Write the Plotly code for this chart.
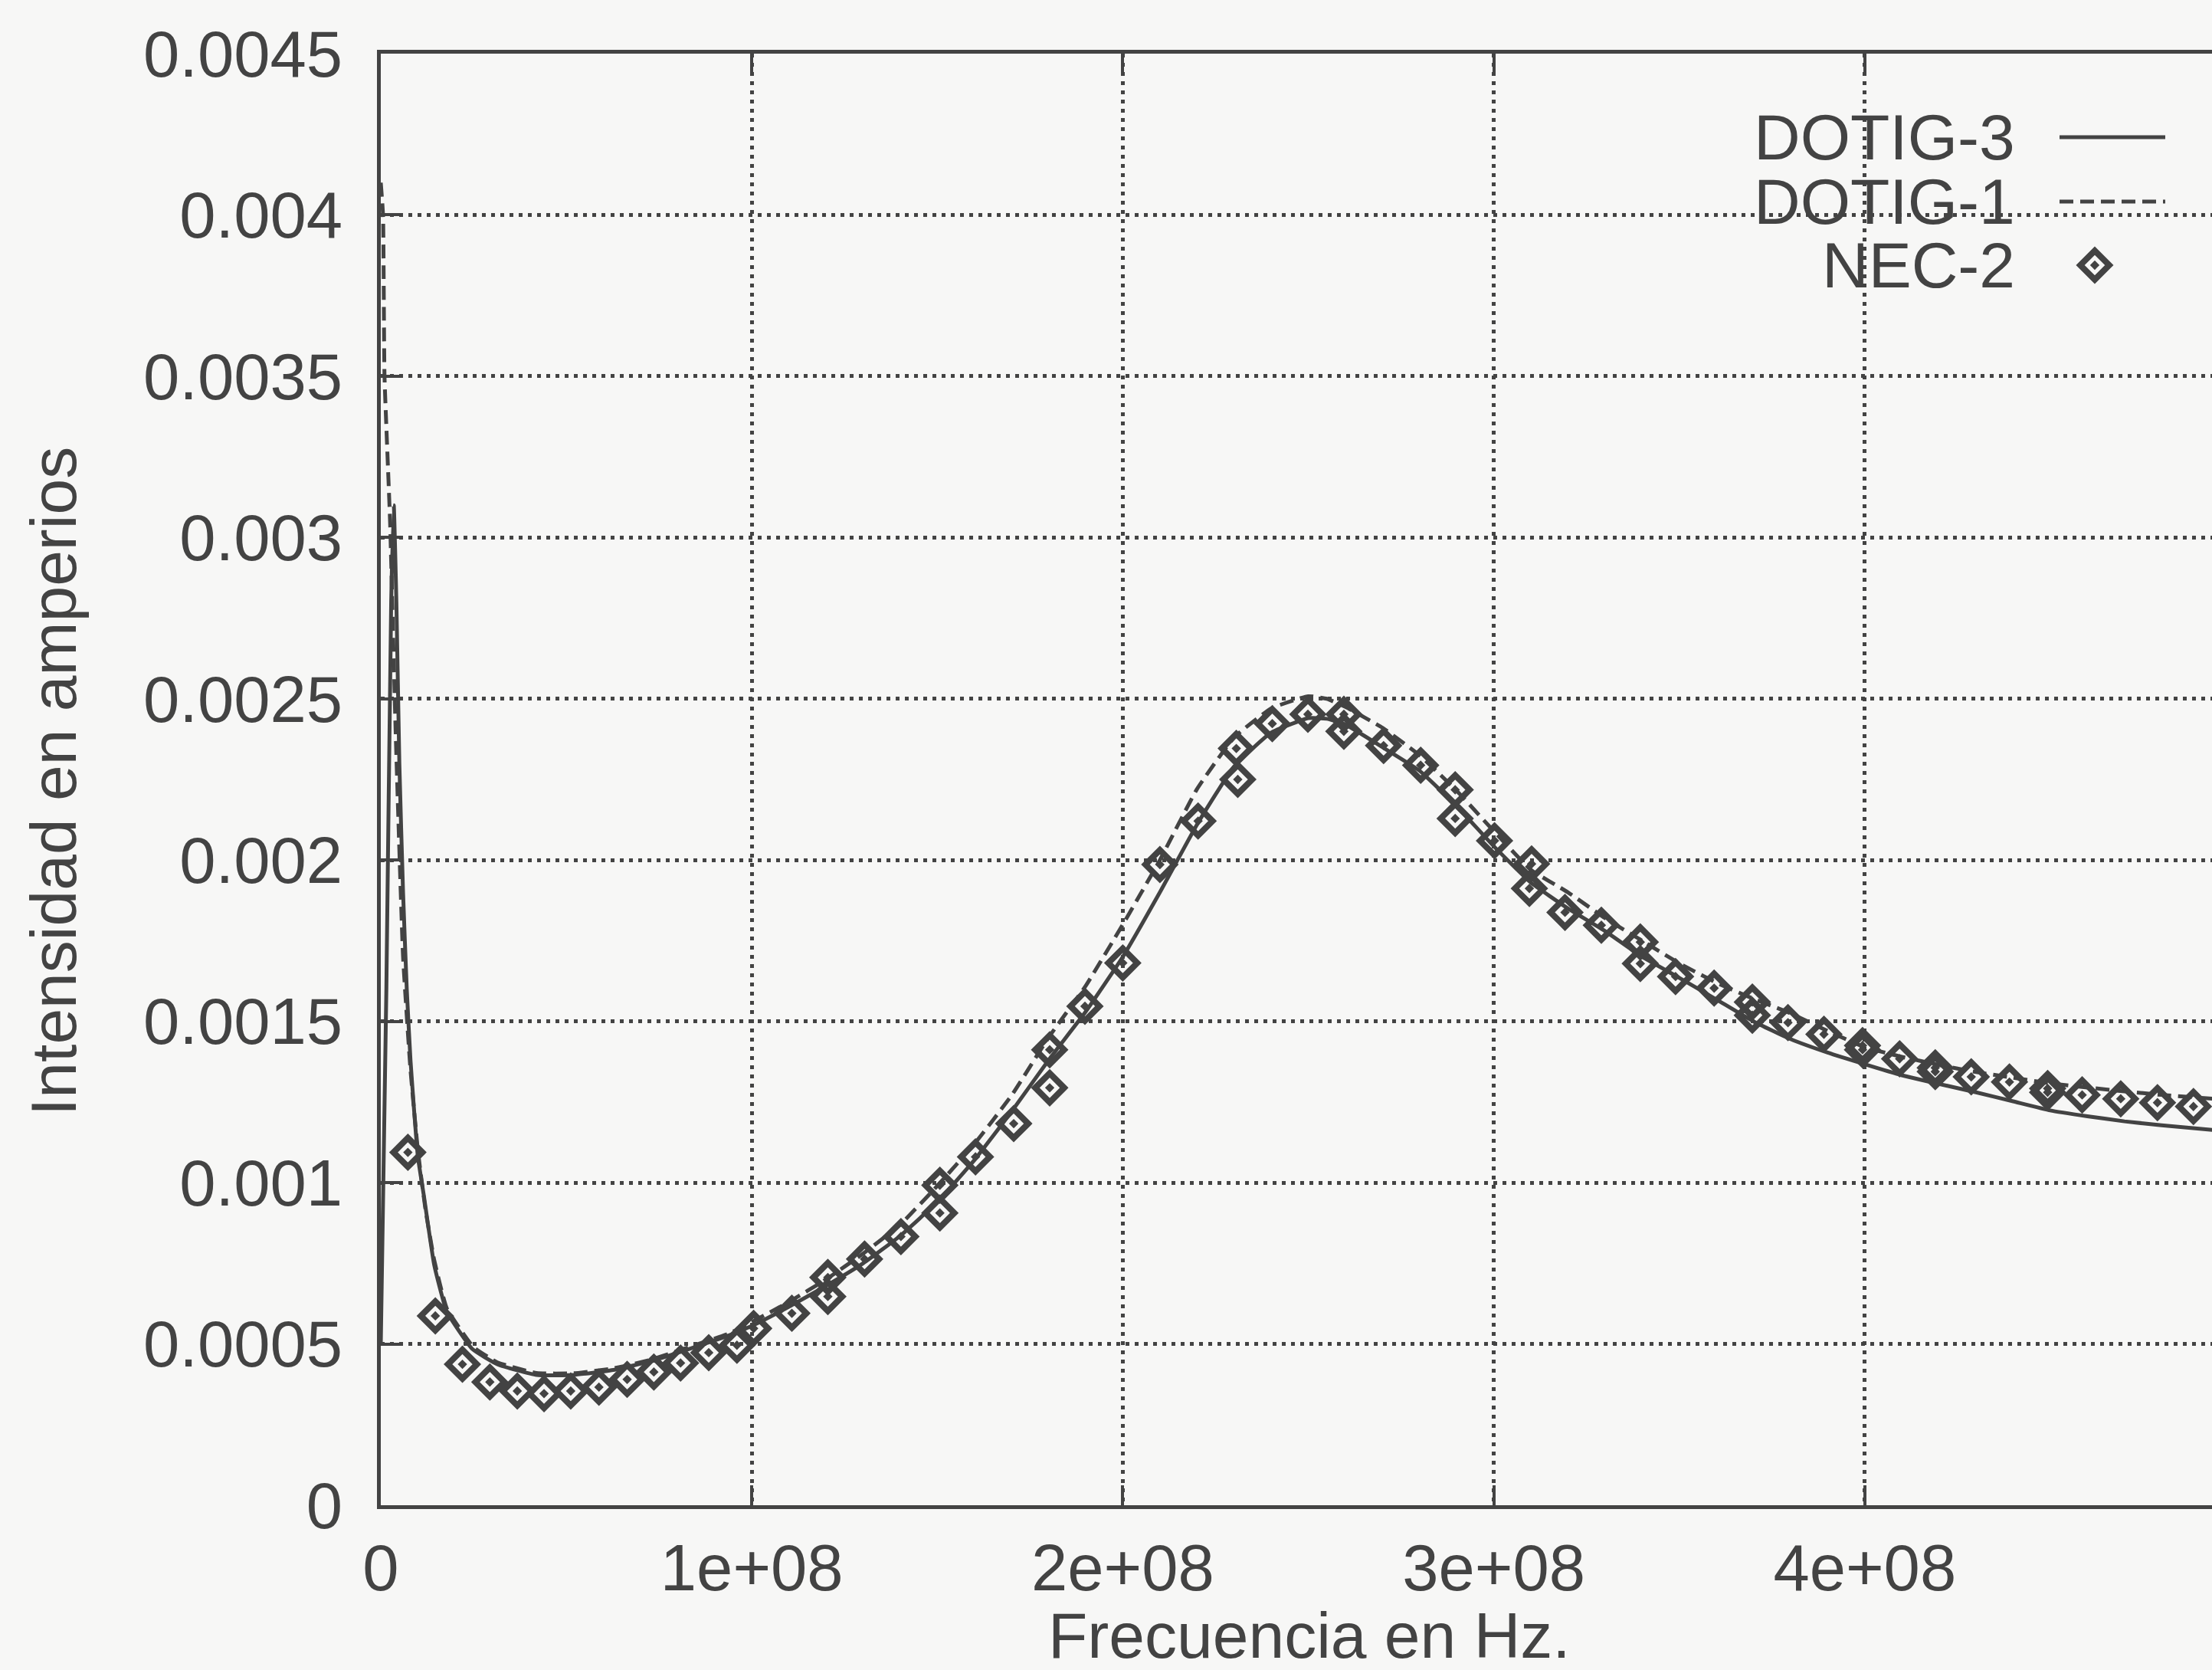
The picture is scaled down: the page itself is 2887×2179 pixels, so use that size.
import plotly.graph_objects as go

# Frequencies are given in units of 1e8 Hz, currents in amperes.

# DOTIG-3 (solid line)
f_dotig3 = [0.0, 0.015, 0.028, 0.035, 0.042, 0.05, 0.06, 0.07, 0.08, 0.09, 0.10, 0.116,
            0.144, 0.178, 0.247, 0.316, 0.42, 0.52, 0.63, 0.73, 0.83, 0.94, 1.0,
            1.1, 1.2, 1.3, 1.4, 1.5, 1.6, 1.7, 1.8, 1.9, 2.0, 2.1, 2.2, 2.3, 2.4,
            2.5, 2.55, 2.6, 2.7, 2.8, 2.9, 3.0, 3.1, 3.2, 3.3, 3.4, 3.5, 3.6, 3.7,
            3.8, 3.9, 4.0, 4.1, 4.2, 4.3, 4.4, 4.5, 4.6, 4.7, 4.8, 4.94]
i_dotig3 = [0.0005, 0.0016, 0.0028, 0.0031, 0.0028, 0.0023, 0.0019, 0.0016, 0.00138, 0.00122, 0.00108, 0.00096,
            0.000745, 0.0006, 0.000484, 0.000436, 0.000404, 0.000404, 0.00042, 0.000447, 0.000484, 0.000527, 0.000556,
            0.000615, 0.00068, 0.00075, 0.000835, 0.00094, 0.00107, 0.00122, 0.00138, 0.00153, 0.0017, 0.0019, 0.00211, 0.00229, 0.002395,
            0.00244, 0.002438, 0.00242, 0.00235, 0.002277, 0.002167, 0.002043, 0.00193, 0.00185, 0.00178, 0.0017, 0.001635, 0.001568, 0.0015,
            0.001445, 0.001403, 0.001367, 0.001333, 0.001306, 0.00128, 0.001252, 0.001224, 0.001206, 0.00119, 0.001178, 0.001163]

# DOTIG-1 (dashed line)
f_dotig1 = [0.0, 0.006, 0.01, 0.025, 0.04, 0.06, 0.08, 0.10, 0.12, 0.144, 0.178,
            0.25, 0.316, 0.42, 0.52, 0.63, 0.73, 0.83, 0.94, 1.0, 1.1, 1.2, 1.3,
            1.4, 1.5, 1.6, 1.7, 1.8, 1.9, 2.0, 2.1, 2.2, 2.3, 2.4, 2.5, 2.55, 2.6,
            2.7, 2.8, 2.9, 3.0, 3.1, 3.2, 3.3, 3.4, 3.5, 3.6, 3.7, 3.8, 3.9, 4.0,
            4.1, 4.2, 4.3, 4.4, 4.5, 4.6, 4.7, 4.8, 4.94]
i_dotig1 = [0.0041, 0.0040, 0.0035, 0.00305, 0.0024, 0.0017, 0.00135, 0.0011, 0.00092, 0.00076, 0.00061,
            0.00049, 0.000442, 0.00041, 0.000409, 0.000425, 0.000452, 0.00049, 0.000533, 0.000568, 0.00063, 0.0007, 0.00078,
            0.00087, 0.00099, 0.00112, 0.00127, 0.00145, 0.00161, 0.0018, 0.002, 0.00222, 0.00238, 0.00247, 0.002508, 0.0025, 0.002475,
            0.00241, 0.002325, 0.002215, 0.00209, 0.00197, 0.0019, 0.00182, 0.00175, 0.00168, 0.00162, 0.00157, 0.001525, 0.00147, 0.00142,
            0.00139, 0.001365, 0.001343, 0.001325, 0.001308, 0.001295, 0.001283, 0.001272, 0.00126]

# NEC-2 (points)
f_nec2 = [0.073, 0.147, 0.22, 0.294, 0.368, 0.44, 0.512, 0.588, 0.664, 0.736, 0.808, 0.884,
          0.96, 1.005, 1.108, 1.205, 1.205, 1.304, 1.402, 1.507, 1.507, 1.603, 1.706,
          1.803, 1.803, 1.898, 2.0, 2.1, 2.203, 2.306, 2.31, 2.403, 2.499, 2.596, 2.596,
          2.703, 2.803, 2.896, 2.896, 3.002, 3.102, 3.096, 3.192, 3.29, 3.395, 3.395,
          3.49, 3.594, 3.697, 3.697, 3.793, 3.89, 3.994, 3.994, 4.094, 4.19, 4.19, 4.287,
          4.39, 4.493, 4.493, 4.586, 4.69, 4.789, 4.886]
i_nec2 = [0.001094, 0.000587, 0.000437, 0.000382, 0.000354, 0.000346, 0.000354, 0.000366, 0.00039, 0.000413, 0.000441, 0.000473,
          0.000496, 0.000548, 0.000595, 0.000706, 0.000647, 0.000763, 0.000833, 0.000992, 0.000906, 0.00108, 0.001183,
          0.001412, 0.001294, 0.001547, 0.001681, 0.001986, 0.002121, 0.002346, 0.00225, 0.002423, 0.002452, 0.002452, 0.002399,
          0.002355, 0.002294, 0.002218, 0.002129, 0.00206, 0.001988, 0.001912, 0.001838, 0.001798, 0.001746, 0.001679,
          0.001639, 0.001603, 0.00156, 0.001519, 0.001496, 0.00146, 0.001425, 0.001412, 0.001384, 0.001356, 0.001344, 0.001328,
          0.001312, 0.001292, 0.00128, 0.001272, 0.00126, 0.001248, 0.001236]

x_ticks = [0, 1e8, 2e8, 3e8, 4e8]
x_tick_labels = ["0", "1e+08", "2e+08", "3e+08", "4e+08"]
y_ticks = [0, 0.0005, 0.001, 0.0015, 0.002, 0.0025, 0.003, 0.0035, 0.004, 0.0045]
y_tick_labels = ["0", "0.0005", "0.001", "0.0015", "0.002", "0.0025", "0.003", "0.0035", "0.004", "0.0045"]

series_names = ["DOTIG-3", "DOTIG-1", "NEC-2"]

INK = "#434343"
PAPER = "#f7f7f6"
FONT = "Liberation Sans, Arial, Helvetica, sans-serif"
W, H = 2887, 2179
ML, MR, MT, MB = 497, 0, 70, 215
X_MAX = 4.936e8
LINE_W = 5
DASH = "18px,9px"
MARKER = dict(symbol="diamond-open-dot", size=29, color=INK, line=dict(color=INK, width=8))

scale = 1e8
fig = go.Figure()

fig.add_trace(go.Scatter(
    x=[f * scale for f in f_dotig3], y=i_dotig3, mode="lines",
    line=dict(color=INK, width=LINE_W, shape="spline", smoothing=0.4),
    name=series_names[0], showlegend=False))
fig.add_trace(go.Scatter(
    x=[f * scale for f in f_dotig1], y=i_dotig1, mode="lines",
    line=dict(color=INK, width=LINE_W, dash=DASH, shape="spline", smoothing=0.4),
    name=series_names[1], showlegend=False))
fig.add_trace(go.Scatter(
    x=[f * scale for f in f_nec2], y=i_nec2, mode="markers",
    marker=MARKER, name=series_names[2], showlegend=False))

# Key drawn gnuplot-style: label on the left, sample on the right.
pw, ph = W - ML - MR, H - MT - MB
key_rows_y = [179, 263, 346]          # pixel rows of the key entries
key_text_right = 2632
key_sample = (2688, 2826)


def px_to_paper_x(px):
    return (px - ML) / pw


def px_to_paper_y(py):
    return 1 - (py - MT) / ph


for name, row in zip(series_names, key_rows_y):
    fig.add_annotation(
        x=px_to_paper_x(key_text_right), y=px_to_paper_y(row), xref="paper", yref="paper",
        text=name, showarrow=False, xanchor="right", yanchor="middle",
        font=dict(family=FONT, size=84, color=INK))

fig.add_shape(type="line", xref="paper", yref="paper",
              x0=px_to_paper_x(key_sample[0]), x1=px_to_paper_x(key_sample[1]),
              y0=px_to_paper_y(key_rows_y[0]), y1=px_to_paper_y(key_rows_y[0]),
              line=dict(color=INK, width=LINE_W))
fig.add_shape(type="line", xref="paper", yref="paper",
              x0=px_to_paper_x(key_sample[0]), x1=px_to_paper_x(key_sample[1]),
              y0=px_to_paper_y(key_rows_y[1]), y1=px_to_paper_y(key_rows_y[1]),
              line=dict(color=INK, width=LINE_W, dash=DASH))
fig.add_trace(go.Scatter(
    x=[px_to_paper_x(2734)], y=[px_to_paper_y(key_rows_y[2])], xaxis="x2", yaxis="y2",
    mode="markers", showlegend=False, hoverinfo="skip", marker=MARKER))

# Axis titles
fig.add_annotation(x=px_to_paper_x(1709), y=px_to_paper_y(2134), xref="paper", yref="paper",
                   text="Frecuencia en Hz.", showarrow=False, xanchor="center", yanchor="middle",
                   font=dict(family=FONT, size=84, color=INK))
fig.add_annotation(x=px_to_paper_x(70), y=px_to_paper_y(1020), xref="paper", yref="paper",
                   text="Intensidad en amperios", showarrow=False, textangle=-90,
                   xanchor="center", yanchor="middle",
                   font=dict(family=FONT, size=84, color=INK))

grid = dict(showgrid=True, gridcolor=INK, gridwidth=5, griddash="5px,7px")
fig.update_layout(
    width=W, height=H,
    margin=dict(l=ML, r=MR, t=MT, b=MB, pad=0),
    paper_bgcolor=PAPER, plot_bgcolor=PAPER,
    font=dict(family=FONT, size=85, color=INK),
    xaxis=dict(range=[0, X_MAX], tickvals=x_ticks, ticktext=x_tick_labels,
               ticks="inside", ticklen=26, tickwidth=4, tickcolor=INK,
               showline=True, linecolor=INK, linewidth=5, mirror="ticks",
               zeroline=False, ticklabelstandoff=4, **grid),
    yaxis=dict(range=[0, 0.0045], tickvals=y_ticks, ticktext=y_tick_labels,
               ticks="inside", ticklen=26, tickwidth=4, tickcolor=INK,
               showline=True, linecolor=INK, linewidth=5, mirror=False,
               zeroline=False, ticklabelstandoff=28, **grid),
    xaxis2=dict(range=[0, 1], overlaying="x", visible=False),
    yaxis2=dict(range=[0, 1], overlaying="y", visible=False),
)

fig.write_html("out.html")
